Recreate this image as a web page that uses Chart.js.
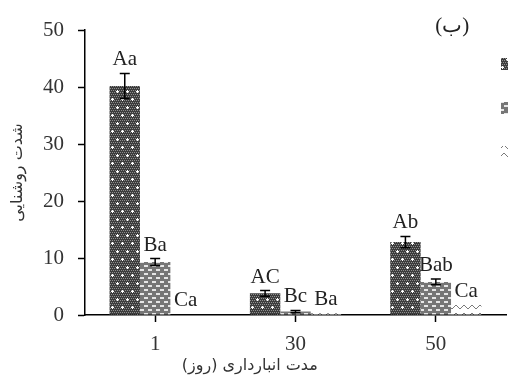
<!DOCTYPE html>
<html>
<head>
<meta charset="utf-8">
<script src="https://cdn.jsdelivr.net/npm/chart.js@4.4.1/dist/chart.umd.min.js"></script>
<style>
  html, body { margin: 0; padding: 0; background: #fff; overflow: hidden; }
  #wrap { width: 508px; height: 376px; }
</style>
</head>
<body>
<div id="wrap"><canvas id="chart" width="508" height="376"></canvas></div>
<script>
// storage days (x categories)
const days = ['1', '30', '50'];
const seriesNames = ['تیمار A', 'تیمار B', 'تیمار C'];

// light intensity per treatment
const valuesA = [40.2, 3.8, 12.8];
const valuesB = [9.3, 0.6, 5.8];
const valuesC = [0.1, 0.3, 1.8];

// standard errors
const errorsA = [2.2, 0.5, 1.0];
const errorsB = [0.6, 0.2, 0.5];
const errorsC = [0, 0, 0];

// significance letters
const lettersA = ['Aa', 'AC', 'Ab'];
const lettersB = ['Ba', 'Bc', 'Bab'];
const lettersC = ['Ca', 'Ba', 'Ca'];

const yTicks = [0, 10, 20, 30, 40, 50];

const canvas = document.getElementById('chart');
const mainCtx = canvas.getContext('2d');

// fill patterns like the excel bars
function makePattern(kind) {
    const c = document.createElement('canvas');
    const g = c.getContext('2d');
    if (kind === 'dots') {
        c.width = 10; c.height = 16;
        g.fillStyle = '#3c3c3c';
        g.fillRect(0, 0, 10, 16);
        g.fillStyle = '#8e8e8e';
        for (let y = 0; y < 16; y += 2) {
            for (let x = (y / 2) % 2; x < 10; x += 2) g.fillRect(x, y, 1, 1);
        }
        g.fillStyle = '#fff';
        [[2, 3], [7, 11]].forEach(([x, y]) => {
            g.fillRect(x - 1, y, 3, 1);
            g.fillRect(x, y - 1, 1, 3);
        });
    } else if (kind === 'dashes') {
        c.width = 8; c.height = 8;
        g.fillStyle = '#767676';
        g.fillRect(0, 0, 8, 8);
        g.fillStyle = '#e6e6e6';
        g.fillRect(0, 1, 4, 2);
        g.fillRect(4, 5, 4, 2);
    } else {
        c.width = 8; c.height = 8;
        g.fillStyle = '#fff';
        g.fillRect(0, 0, 8, 8);
        g.strokeStyle = '#7a7a7a';
        g.lineWidth = 1;
        g.beginPath();
        g.moveTo(0, 1); g.lineTo(4, 5); g.lineTo(8, 1);
        g.stroke();
    }
    return mainCtx.createPattern(c, 'repeat');
}

// error bars + letters drawn from the y scale
const errorBarPlugin = {
    id: 'errorBars',
    afterDatasetsDraw(chart) {
        const ctx = chart.ctx;
        const ys = chart.scales.y;
        ctx.save();
        chart.data.datasets.forEach((ds, di) => {
            const meta = chart.getDatasetMeta(di);
            meta.data.forEach((bar, i) => {
                const v = ds.data[i], e = ds.errors[i];
                const x = bar.x;
                const topY = ys.getPixelForValue(v + e);
                if (e > 0) {
                    const botY = ys.getPixelForValue(v - e);
                    ctx.strokeStyle = '#000';
                    ctx.lineWidth = 1.5;
                    ctx.beginPath();
                    ctx.moveTo(x, topY); ctx.lineTo(x, botY);
                    ctx.moveTo(x - 5, topY); ctx.lineTo(x + 5, topY);
                    ctx.moveTo(x - 5, botY); ctx.lineTo(x + 5, botY);
                    ctx.stroke();
                }
                ctx.fillStyle = '#222';
                ctx.font = '21px "Liberation Serif"';
                ctx.textAlign = 'center';
                ctx.textBaseline = 'alphabetic';
                ctx.fillText(ds.letters[i], x, topY - 8);
            });
        });
        ctx.restore();
    }
};

// legend sits at the cropped right edge
const legendShift = {
    id: 'legendShift',
    afterLayout(chart) {
        const lg = chart.legend;
        if (!lg) return;
        const w = lg.width, h = lg.height;
        lg.left = 501 - lg.options.labels.padding;
        lg.right = lg.left + w;
        lg.top += 26;
        lg.bottom = lg.top + h;
    }
};

const serifFont = { family: 'Liberation Serif', size: 21 };
const faFont = { family: 'DejaVu Sans', size: 16 };

new Chart(mainCtx, {
    type: 'bar',
    data: {
        labels: days,
        datasets: [
            { label: seriesNames[0], data: valuesA, errors: errorsA, letters: lettersA, backgroundColor: makePattern('dots'), borderWidth: 0 },
            { label: seriesNames[1], data: valuesB, errors: errorsB, letters: lettersB, backgroundColor: makePattern('dashes'), borderWidth: 0 },
            { label: seriesNames[2], data: valuesC, errors: errorsC, letters: lettersC, backgroundColor: makePattern('hatch'), borderWidth: 0 }
        ]
    },
    options: {
        responsive: false,
        animation: false,
        devicePixelRatio: 1,
        layout: { padding: { left: 0, right: 2, top: 0, bottom: 0 } },
        datasets: { bar: { categoryPercentage: 0.65, barPercentage: 1 } },
        plugins: {
            title: {
                display: true,
                text: '(ب)' + '       ',
                align: 'end',
                color: '#222',
                font: { family: 'Liberation Serif', size: 21, weight: 'normal' },
                padding: { top: 14, bottom: -9 }
            },
            legend: {
                position: 'chartArea',
                align: 'start',
                labels: {
                    boxWidth: 16, boxHeight: 12, padding: 32,
                    color: '#333',
                    font: { family: 'DejaVu Sans', size: 12 }
                }
            },
            tooltip: { enabled: false }
        },
        scales: {
            x: {
                afterFit: (s) => { s.height = 61; },
                border: { color: '#000', width: 1.5 },
                grid: { offset: false, drawOnChartArea: false, tickLength: 7, color: '#000', tickWidth: 1.5 },
                ticks: { color: '#333', font: serifFont, padding: 10 },
                title: {
                    display: true,
                    text: 'مدت انبارداری (روز)' + '                  ',
                    color: '#333',
                    font: faFont,
                    padding: { top: 0, bottom: 1 }
                }
            },
            y: {
                min: 0,
                max: 50,
                afterBuildTicks: (s) => { s.ticks = yTicks.map(v => ({ value: v })); },
                afterFit: (s) => { s.width = 85; },
                border: { color: '#000', width: 1.5 },
                grid: { drawOnChartArea: false, tickLength: 7, color: '#000', tickWidth: 1.5 },
                ticks: { color: '#333', font: serifFont, padding: 14 },
                title: {
                    display: true,
                    text: 'شدت روشنایی',
                    color: '#333',
                    font: faFont,
                    padding: { top: 8, bottom: 0 }
                }
            }
        }
    },
    plugins: [errorBarPlugin, legendShift]
});
</script>
</body>
</html>
